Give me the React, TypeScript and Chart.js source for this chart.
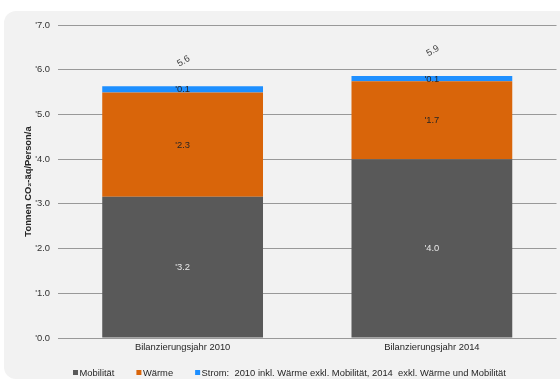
import React, { useEffect, useRef } from "react";
import { Chart, registerables } from "chart.js";

Chart.register(...registerables);

const categories = ["Bilanzierungsjahr 2010", "Bilanzierungsjahr 2014"];
const mobilitaet = [3.16, 4.0];
const waerme = [2.33, 1.74];
const strom = [0.14, 0.12];
const seriesNames = [
  "Mobilität",
  "Wärme",
  "Strom:  2010 inkl. Wärme exkl. Mobilität, 2014  exkl. Wärme und Mobilität",
];
const seriesColors = ["#595959", "#d9650a", "#1e8fff"];
const valueLabelColors = ["#e8e8e8", "#262626", "#262626"];
const yTitle = "Tonnen CO₂-äq/Person/a";

const FONT = "'Liberation Sans', Arial, sans-serif";
const FS = 9.4;

const overlayPlugin = {
  id: "overlay",
  afterDatasetsDraw(chart: any) {
    const ctx = chart.ctx;
    ctx.save();
    ctx.font = `${FS}px ${FONT}`;
    ctx.textAlign = "center";
    ctx.textBaseline = "middle";
    const nSets = chart.data.datasets.length;
    chart.data.datasets.forEach((ds: any, di: number) => {
      const meta = chart.getDatasetMeta(di);
      meta.data.forEach((bar: any, i: number) => {
        const v = ds.data[i];
        const cy = (bar.y + bar.base) / 2;
        ctx.fillStyle = valueLabelColors[di];
        ctx.fillText("'" + v.toFixed(1), bar.x, cy + 0.5);
      });
    });
    // totals
    const yScale = chart.scales.y;
    const meta0 = chart.getDatasetMeta(0);
    meta0.data.forEach((bar: any, i: number) => {
      let sum = 0;
      for (let d = 0; d < nSets; d++) sum += chart.data.datasets[d].data[i];
      const top = yScale.getPixelForValue(sum);
      ctx.save();
      ctx.translate(bar.x + 1, top - 25);
      ctx.rotate((-30 * Math.PI) / 180);
      ctx.fillStyle = "#404040";
      ctx.fillText(sum.toFixed(1), 0, 0);
      ctx.restore();
    });
    ctx.restore();
  },
  afterDraw(chart: any) {
    const ctx = chart.ctx;
    ctx.save();
    // y title
    ctx.font = `bold ${FS}px ${FONT}`;
    ctx.fillStyle = "#262626";
    ctx.textAlign = "center";
    ctx.textBaseline = "middle";
    const ca = chart.chartArea;
    ctx.translate(28, (ca.top + ca.bottom) / 2);
    ctx.rotate(-Math.PI / 2);
    ctx.fillText(yTitle, 0, 0);
    ctx.restore();
    // legend
    ctx.save();
    ctx.font = `${FS}px ${FONT}`;
    ctx.textBaseline = "middle";
    ctx.textAlign = "left";
    let x = 73;
    const y = 372.5;
    chart.data.datasets.forEach((ds: any) => {
      ctx.fillStyle = ds.backgroundColor;
      ctx.fillRect(x, y - 2.5, 5, 5);
      ctx.fillStyle = "#262626";
      ctx.fillText(ds.label, x + 6.5, y + 0.5);
      x += 6.5 + ctx.measureText(ds.label).width + 22;
    });
    ctx.restore();
  },
};

export default function App() {
  const ref = useRef<HTMLCanvasElement>(null);
  useEffect(() => {
    if (!ref.current) return;
    const datasets = [mobilitaet, waerme, strom].map((d, i) => ({
      label: seriesNames[i],
      data: d,
      backgroundColor: seriesColors[i],
      borderWidth: 0,
      categoryPercentage: 1,
      barPercentage: 0.645,
    }));
    const chart = new Chart(ref.current, {
      type: "bar",
      data: { labels: categories, datasets },
      options: {
        animation: false,
        responsive: false,
        layout: { padding: { top: 25, right: 3.5, bottom: 0, left: 0 } },
        plugins: {
          legend: { display: false },
          tooltip: { enabled: false },
        },
        scales: {
          x: {
            stacked: true,
            grid: { display: false, drawTicks: false },
            border: { display: false },
            ticks: {
              padding: 4,
              color: "#262626",
              font: { family: FONT, size: FS },
            },
            afterFit(scale: any) {
              scale.height = 43;
            },
          },
          y: {
            stacked: true,
            min: 0,
            max: 7,
            grid: { color: "#999999", lineWidth: 1, drawTicks: false },
            border: { display: false },
            ticks: {
              stepSize: 1,
              padding: 8,
              color: "#333333",
              font: { family: FONT, size: FS },
              callback: (v: any) => "'" + Number(v).toFixed(1),
            },
            afterFit(scale: any) {
              scale.width = 58;
            },
          },
        },
      },
      plugins: [overlayPlugin],
    });
    return () => chart.destroy();
  }, []);
  return (
    <div style={{ position: "absolute", left: 0, top: 0, width: 560, height: 381, overflow: "hidden", background: "#ffffff" }}>
      <div
        style={{
          position: "absolute",
          left: 4,
          top: 11,
          width: 570,
          height: 368,
          borderRadius: 12,
          background: "#f2f2f2",
        }}
      />
      <canvas ref={ref} width={560} height={381} style={{ position: "absolute", left: 0, top: 0 }} />
    </div>
  );
}
